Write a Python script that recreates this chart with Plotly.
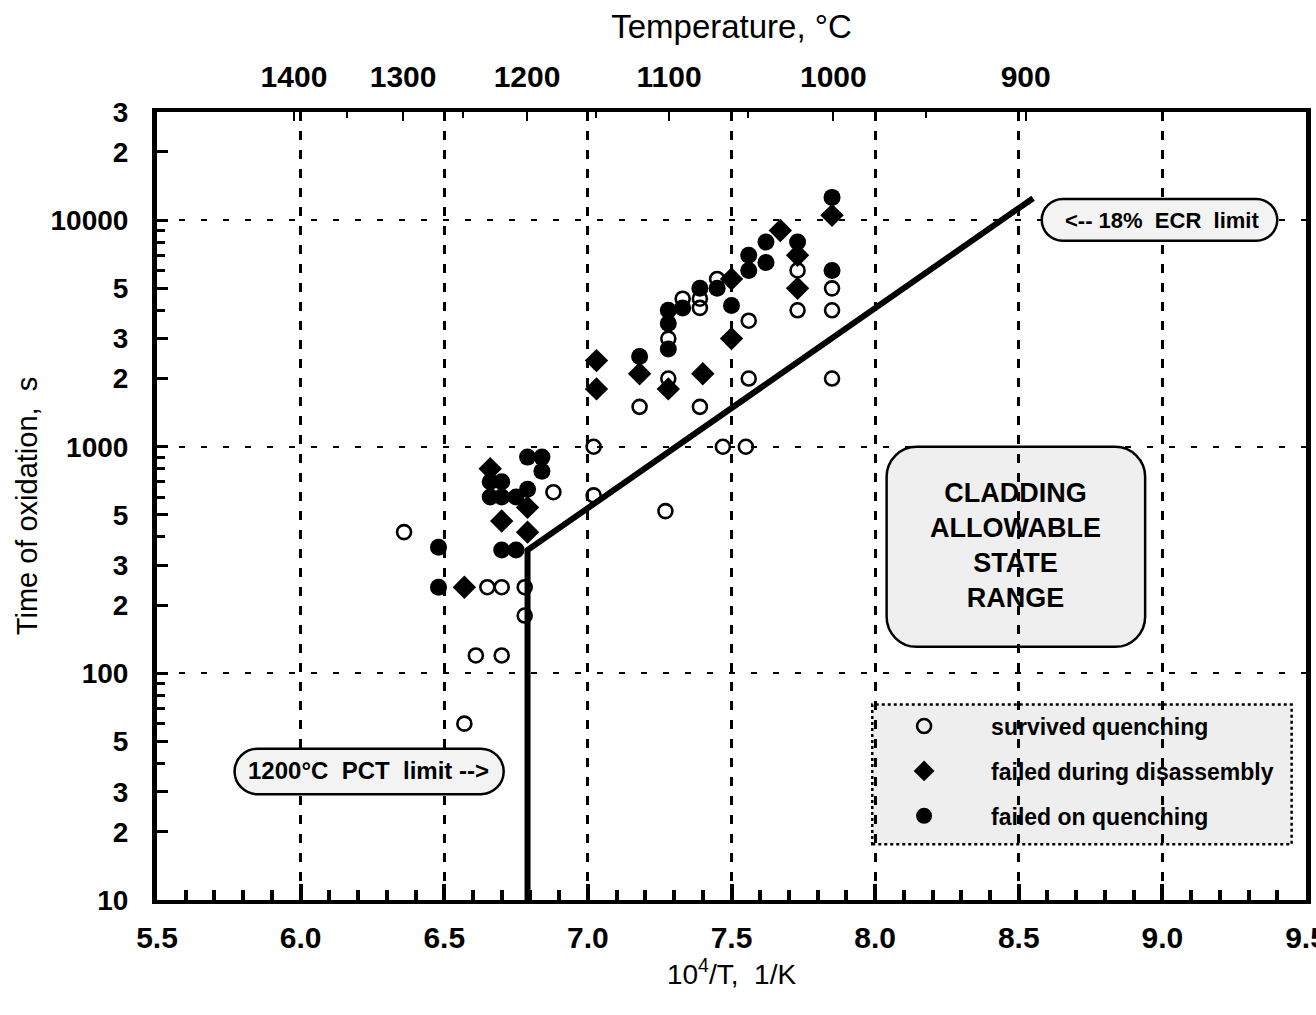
import math
import plotly.graph_objects as go

# --- Oxidation test results: x = 10^4/T (1/K), y = oxidation time (s) ---
survived_x = [6.36, 6.65, 6.70, 6.78, 6.78, 6.61, 6.70, 6.57, 6.88, 7.02, 7.02,
              7.18, 7.28, 7.28, 7.33, 7.39, 7.39, 7.39, 7.45, 7.56, 7.56, 7.47,
              7.55, 7.27, 7.73, 7.73, 7.85, 7.85, 7.85]
survived_y = [420, 240, 240, 240, 180, 120, 120, 60, 630, 1000, 610,
              1500, 2000, 3000, 4500, 4500, 4100, 1500, 5500, 3600, 2000, 1000,
              1000, 520, 6000, 4000, 5000, 4000, 2000]

disassembly_x = [6.57, 6.66, 6.79, 6.70, 6.79, 7.03, 7.03, 7.18, 7.28, 7.40,
                 7.50, 7.50, 7.67, 7.73, 7.73, 7.85]
disassembly_y = [240, 800, 540, 470, 420, 2400, 1800, 2100, 1800, 2100,
                 5500, 3000, 9000, 7000, 5000, 10500]

quench_x = [6.48, 6.48, 6.79, 6.84, 6.84, 6.66, 6.70, 6.66, 6.70, 6.75, 6.79,
            6.70, 6.75, 7.18, 7.28, 7.28, 7.28, 7.33, 7.39, 7.45, 7.50, 7.56,
            7.56, 7.62, 7.62, 7.73, 7.85, 7.85]
quench_y = [360, 240, 900, 900, 780, 700, 700, 600, 600, 600, 650,
            350, 350, 2500, 4000, 3500, 2700, 4100, 5000, 5000, 4200, 7000,
            6000, 8000, 6500, 8000, 12600, 6000]

# Limit curve: 1200 C PCT limit (vertical) joined to the 18% ECR limit
limit_x = [6.79, 6.79, 8.55]
limit_y = [10, 350, 12500]

# Top axis temperatures (deg C)
temps_major = [1400, 1300, 1200, 1100, 1000, 900]
temps_minor = [1350, 1250, 1150, 1050, 950]

# Bottom axis ticks
x_ticks = [5.5, 6.0, 6.5, 7.0, 7.5, 8.0, 8.5, 9.0, 9.5]
x_tick_text = ["5.5", "6.0", "6.5", "7.0", "7.5", "8.0", "8.5", "9.0", "9.5"]

# Left axis ticks
y_major = [10, 20, 30, 50, 100, 200, 300, 500, 1000, 2000, 3000, 5000,
           10000, 20000, 30000]
y_major_text = ["10", "2", "3", "5", "100", "2", "3", "5", "1000", "2", "3",
                "5", "10000", "2", "3"]
y_minor = [40, 60, 70, 80, 90, 400, 600, 700, 800, 900, 4000, 6000, 7000,
           8000, 9000]

X_RANGE = [5.5, 9.5]
Y_RANGE = [1.0, math.log10(30000)]

W, H = 1316, 1015
ML, MR, MT, MB = 157, 10, 112, 115
PW, PH = W - ML - MR, H - MT - MB

FONT = "Liberation Sans, Arial, sans-serif"


def to_paper(x, y):
    px = (x - X_RANGE[0]) / (X_RANGE[1] - X_RANGE[0])
    py = (math.log10(y) - Y_RANGE[0]) / (Y_RANGE[1] - Y_RANGE[0])
    return px, py


def rounded_box(x0, y0, x1, y1, r_px):
    """Rounded rectangle path in paper coordinates; corners given in data units."""
    a0, b0 = to_paper(x0, y0)
    a1, b1 = to_paper(x1, y1)
    left, right = min(a0, a1), max(a0, a1)
    bot, top = min(b0, b1), max(b0, b1)
    rx = r_px / PW
    ry = r_px / PH
    k = 0.5523
    p = [
        f"M {left + rx},{bot}",
        f"L {right - rx},{bot}",
        f"C {right - rx + k * rx},{bot} {right},{bot + ry - k * ry} {right},{bot + ry}",
        f"L {right},{top - ry}",
        f"C {right},{top - ry + k * ry} {right - rx + k * rx},{top} {right - rx},{top}",
        f"L {left + rx},{top}",
        f"C {left + rx - k * rx},{top} {left},{top - ry + k * ry} {left},{top - ry}",
        f"L {left},{bot + ry}",
        f"C {left},{bot + ry - k * ry} {left + rx - k * rx},{bot} {left + rx},{bot}",
        "Z",
    ]
    return " ".join(p)


fig = go.Figure()

fig.add_trace(go.Scatter(
    x=limit_x, y=limit_y, mode="lines",
    line=dict(color="black", width=6),
    showlegend=False, hoverinfo="skip",
))

fig.add_trace(go.Scatter(
    x=survived_x, y=survived_y, mode="markers", name="survived quenching",
    legendgroup="a",
    marker=dict(symbol="circle-open", size=14, color="black",
                line=dict(width=2.6, color="black")),
))
fig.add_trace(go.Scatter(
    x=disassembly_x, y=disassembly_y, mode="markers",
    name="failed during disassembly", legendgroup="b",
    marker=dict(symbol="diamond", size=18, color="black"),
))
fig.add_trace(go.Scatter(
    x=quench_x, y=quench_y, mode="markers", name="failed on quenching",
    legendgroup="c",
    marker=dict(symbol="circle", size=17, color="black"),
))


def inv_t(tc):
    """Temperature in deg C -> 10^4 / T[K]."""
    return 1e4 / (tc + 273.15)


# invisible traces that switch on the temperature axis and the decade grid
fig.add_trace(go.Scatter(x=[X_RANGE[0]], y=[10], xaxis="x2", mode="markers",
                         marker=dict(opacity=0), showlegend=False,
                         hoverinfo="skip"))
fig.add_trace(go.Scatter(x=[X_RANGE[0]], y=[10], yaxis="y2", mode="markers",
                         marker=dict(opacity=0), showlegend=False,
                         hoverinfo="skip"))

shapes = []
shapes.append(dict(type="path", xref="paper", yref="paper",
                   path=rounded_box(8.04, 1000, 8.94, 131, 30),
                   line=dict(color="black", width=2.5),
                   fillcolor="#efefef", layer="below"))
shapes.append(dict(type="path", xref="paper", yref="paper",
                   path=rounded_box(8.58, 12400, 9.40, 8100, 21),
                   line=dict(color="black", width=2.5),
                   fillcolor="#f3f3f3", layer="above"))
shapes.append(dict(type="path", xref="paper", yref="paper",
                   path=rounded_box(5.77, 46.5, 6.707, 29.3, 23),
                   line=dict(color="black", width=2.5),
                   fillcolor="#f3f3f3", layer="above"))
# legend frame
lx0, ly0 = to_paper(7.99, 17.6)
lx1, ly1 = to_paper(9.45, 72.8)
shapes.append(dict(type="rect", xref="paper", yref="paper",
                   x0=lx0, y0=ly0, x1=lx1, y1=ly1,
                   line=dict(color="black", width=2.5, dash="dot"),
                   fillcolor="#eeeeee", layer="below"))

annotations = []
ax_, ay_ = to_paper(8.49, 366)
annotations.append(dict(xref="paper", yref="paper", x=ax_, y=ay_,
                        xanchor="center", yanchor="middle",
                        text="CLADDING<br>ALLOWABLE<br>STATE<br>RANGE",
                        showarrow=False, align="center",
                        font=dict(family=FONT, size=27, color="black",
                                  weight="bold")))
ax_, ay_ = to_paper(9.0, 10000)
annotations.append(dict(xref="paper", yref="paper", x=ax_, y=ay_,
                        xanchor="center", yanchor="middle",
                        text="&lt;-- 18%  ECR  limit", showarrow=False,
                        font=dict(family=FONT, size=22, color="black",
                                  weight="bold")))
ax_, ay_ = to_paper(6.235, 37.3)
annotations.append(dict(xref="paper", yref="paper", x=ax_, y=ay_,
                        xanchor="center", yanchor="middle",
                        text="1200°C  PCT  limit --&gt;", showarrow=False,
                        font=dict(family=FONT, size=24, color="black",
                                  weight="bold")))

fig.update_layout(
    width=W, height=H,
    margin=dict(l=ML, r=MR, t=MT, b=MB, autoexpand=False),
    paper_bgcolor="white", plot_bgcolor="white",
    font=dict(family=FONT, color="black"),
    shapes=shapes,
    annotations=annotations,
    legend=dict(
        x=lx0 - 0.0132, y=ly1 + 0.0, xanchor="left", yanchor="top",
        bgcolor="rgba(0,0,0,0)", borderwidth=0,
        font=dict(family=FONT, size=23, color="black", weight="bold"),
        itemwidth=124, tracegroupgap=12,
    ),
    xaxis=dict(
        range=X_RANGE, tickmode="array", tickvals=x_ticks,
        ticktext=x_tick_text, ticklabeloverflow="allow", automargin=False,
        ticks="inside", ticklen=16, tickwidth=4, tickcolor="black",
        minor=dict(dtick=0.1, tick0=5.5, ticks="inside", ticklen=10,
                   tickwidth=4, tickcolor="black", showgrid=False),
        showgrid=True, gridcolor="black", gridwidth=2.5, griddash="9px,10px",
        showline=True, linecolor="black", linewidth=4, mirror=True,
        zeroline=False,
        tickfont=dict(family=FONT, size=30, color="black", weight="bold"),
        ticklabelstandoff=8,
        title=dict(text="10<sup>4</sup>/T,  1/K",
                   font=dict(family=FONT, size=28, color="black"),
                   standoff=6),
    ),
    xaxis2=dict(
        overlaying="x", side="top", range=X_RANGE, automargin=False,
        tickmode="array", tickvals=[inv_t(t) for t in temps_major],
        ticktext=[str(t) for t in temps_major],
        ticks="inside", ticklen=9, tickwidth=2, tickcolor="black",
        minor=dict(tickmode="array", tickvals=[inv_t(t) for t in temps_minor],
                   ticks="inside", ticklen=6, tickwidth=2, tickcolor="black"),
        showgrid=False, showline=False, zeroline=False,
        tickfont=dict(family=FONT, size=30, color="black", weight="bold"),
        ticklabelstandoff=18,
        title=dict(text="Temperature, °C",
                   font=dict(family=FONT, size=33, color="black"),
                   standoff=11),
    ),
    yaxis=dict(
        type="log", range=Y_RANGE, tickmode="array", tickvals=y_major,
        ticktext=y_major_text, automargin=False,
        ticks="inside", ticklen=11, tickwidth=3, tickcolor="black",
        minor=dict(tickmode="array", tickvals=y_minor, ticks="inside",
                   ticklen=8, tickwidth=3, tickcolor="black",
                   showgrid=False),
        showgrid=False,
        showline=True, linecolor="black", linewidth=5, mirror=True,
        zeroline=False,
        tickfont=dict(family=FONT, size=28, color="black", weight="bold"),
        ticklabelstandoff=18,
        title=dict(text="Time of oxidation,  s",
                   font=dict(family=FONT, size=29, color="black"),
                   standoff=6),
    ),
    yaxis2=dict(
        type="log", range=Y_RANGE, overlaying="y", side="left",
        tickmode="array", tickvals=[100, 1000, 10000],
        showticklabels=False, ticks="", automargin=False,
        showgrid=True, gridcolor="black", gridwidth=1.6,
        griddash="6px,16px", showline=False, zeroline=False,
    ),
)

fig.write_html("out.html")
